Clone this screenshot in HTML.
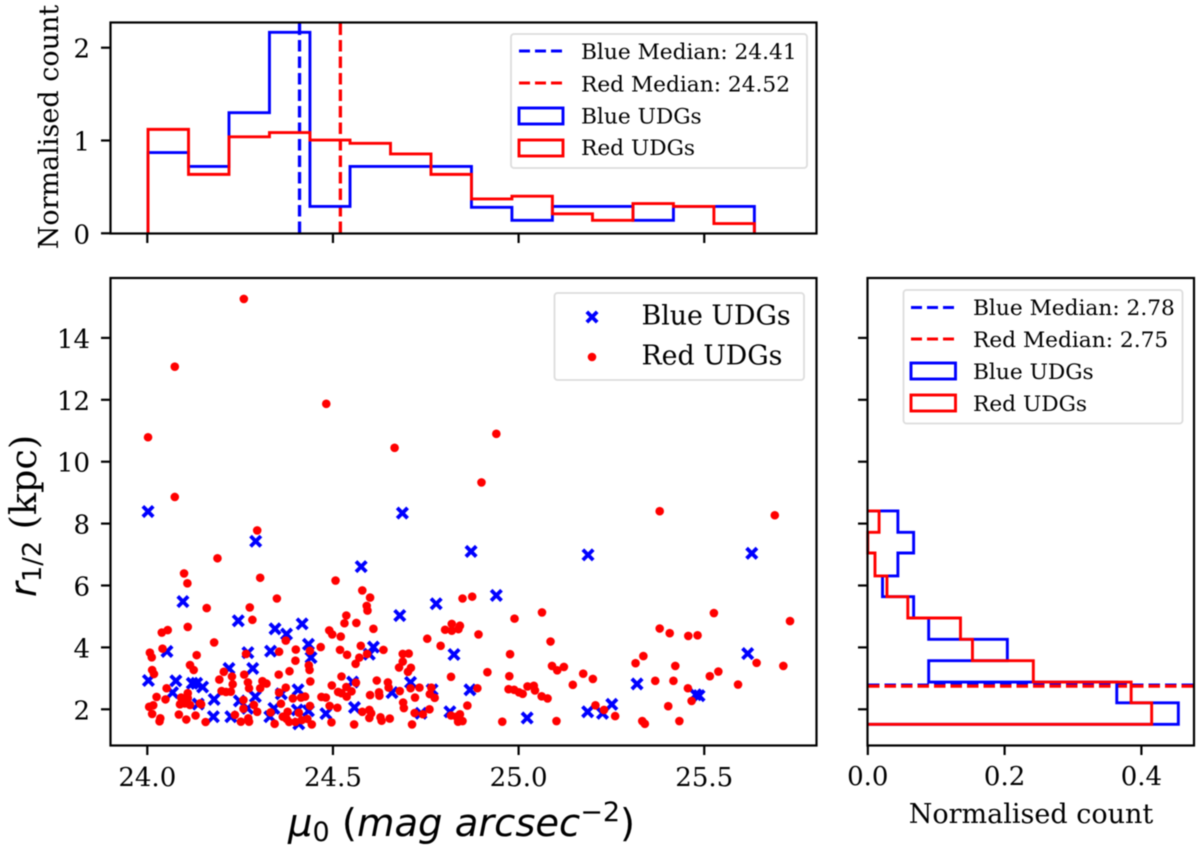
<!DOCTYPE html>
<html lang="en">
<head>
<meta charset="utf-8">
<title>UDG scatter with marginal histograms</title>
<style>
html,body{margin:0;padding:0;background:#fff;}
svg{display:block;filter:blur(0.45px);}
text{font-family:"DejaVu Serif","Liberation Serif",serif;fill:#000;}
.sans{font-family:"DejaVu Sans","Liberation Sans",sans-serif;}
</style>
</head>
<body>
<svg id="chart" xmlns="http://www.w3.org/2000/svg" width="1200" height="850" viewBox="0 0 1200 850">
  <rect x="0" y="0" width="1200" height="850" fill="#fff"/>
  <g id="top-marks"></g>
  <g id="main-marks"></g>
  <g id="right-marks"></g>
  <g id="ticks"></g>

  <rect x="110.5" y="22.5" width="706" height="211" fill="none" stroke="#000" stroke-width="2.2"/>
  <rect x="110.5" y="278" width="706" height="467.5" fill="none" stroke="#000" stroke-width="2.2"/>
  <rect x="867.5" y="278" width="326.5" height="467.5" fill="none" stroke="#000" stroke-width="2.2"/>

  <text font-size="27" text-anchor="middle" transform="translate(58 127) rotate(-90)">Normalised count</text>
  <text transform="translate(36 597) rotate(-90)" font-size="36.5"><tspan class="sans" font-style="italic">r</tspan><tspan class="sans" font-size="25.5" dy="5">1/2</tspan><tspan dy="-5" xml:space="preserve"> (kpc)</tspan></text>
  <text class="sans" x="288" y="836" font-size="38.5" xml:space="preserve"><tspan class="sans" font-style="italic">μ</tspan><tspan class="sans" font-size="27" dy="5">0</tspan><tspan class="sans" dy="-5"> (</tspan><tspan class="sans" font-style="italic">mag arcsec</tspan><tspan class="sans" font-size="27" dy="-15">−2</tspan><tspan class="sans" dy="15">)</tspan></text>
  <text font-size="27" text-anchor="middle" x="1031" y="823">Normalised count</text>

  <g>
    <rect x="511" y="34" width="296" height="134" rx="3" fill="#fff" fill-opacity="0.85" stroke="#ddd" stroke-width="1.8"/>
    <line x1="519" x2="563" y1="51" y2="51" stroke="#00f" stroke-width="3" stroke-dasharray="11 5"/>
    <text x="581" y="59" font-size="21.7">Blue Median: 24.41</text>
    <line x1="519" x2="563" y1="83" y2="83" stroke="#f00" stroke-width="3" stroke-dasharray="11 5"/>
    <text x="581" y="91.5" font-size="21.7">Red Median: 24.52</text>
    <rect x="519" y="108" width="44" height="16" fill="none" stroke="#00f" stroke-width="2.9"/>
    <text x="581" y="123.5" font-size="21.7">Blue UDGs</text>
    <rect x="519" y="140" width="44" height="16" fill="none" stroke="#f00" stroke-width="2.9"/>
    <text x="581" y="155" font-size="21.7">Red UDGs</text>
  </g>

  <g>
    <rect x="554.5" y="293" width="249.5" height="87" rx="3" fill="#fff" fill-opacity="0.85" stroke="#ddd" stroke-width="1.8"/>
    <path d="M586.8 311.8L597.2 322.2M597.2 311.8L586.8 322.2" stroke="#00f" stroke-width="3.8" fill="none"/>
    <text x="641.5" y="324.5" font-size="26.8">Blue UDGs</text>
    <circle cx="592" cy="357" r="4.3" fill="#f00"/>
    <text x="641.5" y="364.5" font-size="26.8">Red UDGs</text>
  </g>

  <g>
    <rect x="903.5" y="290" width="279" height="133.5" rx="3" fill="#fff" fill-opacity="0.85" stroke="#ddd" stroke-width="1.8"/>
    <line x1="911" x2="955.5" y1="307.5" y2="307.5" stroke="#00f" stroke-width="3" stroke-dasharray="11 5"/>
    <text x="973" y="315" font-size="21.7">Blue Median: 2.78</text>
    <line x1="911" x2="955.5" y1="339" y2="339" stroke="#f00" stroke-width="3" stroke-dasharray="11 5"/>
    <text x="973" y="347" font-size="21.7">Red Median: 2.75</text>
    <rect x="911" y="363" width="44.5" height="16" fill="none" stroke="#00f" stroke-width="2.9"/>
    <text x="973" y="379" font-size="21.7">Blue UDGs</text>
    <rect x="911" y="395" width="44.5" height="16" fill="none" stroke="#f00" stroke-width="2.9"/>
    <text x="973" y="411" font-size="21.7">Red UDGs</text>
  </g>
</svg>

<script>
// Tick values
const muTicks = [24.0, 24.5, 25.0, 25.5];
const muTickLabels = ["24.0", "24.5", "25.0", "25.5"];
const radiusTicks = [2, 4, 6, 8, 10, 12, 14];
const radiusTickLabels = ["2", "4", "6", "8", "10", "12", "14"];
const topCountTicks = [0, 1, 2];
const topCountTickLabels = ["0", "1", "2"];
const rightCountTicks = [0.0, 0.2, 0.4];
const rightCountTickLabels = ["0.0", "0.2", "0.4"];

// Medians
const blueMedianMu = 24.41;
const redMedianMu = 24.52;
const blueMedianRadius = 2.78;
const redMedianRadius = 2.75;

// Top histogram (surface brightness)
const muBinEdges = [24.002, 24.111, 24.220, 24.329, 24.438, 24.546, 24.655, 24.764, 24.873, 24.982, 25.091, 25.199, 25.308, 25.417, 25.526, 25.635];
const blueMuCounts = [0.87, 0.72, 1.30, 2.166, 0.29, 0.72, 0.72, 0.72, 0.28, 0.14, 0.29, 0.29, 0.14, 0.29, 0.29];
const redMuCounts = [1.12, 0.635, 1.04, 1.085, 1.005, 0.97, 0.855, 0.635, 0.37, 0.40, 0.21, 0.14, 0.32, 0.29, 0.105];

// Right histogram (radius)
const radiusBinEdges = [1.515, 2.21, 2.88, 3.57, 4.26, 4.95, 5.64, 6.31, 7.05, 7.72, 8.41];
const blueRadiusCounts = [0.454, 0.364, 0.089, 0.204, 0.089, 0.067, 0.0215, 0.044, 0.067, 0.044];
const redRadiusCounts = [0.415, 0.385, 0.242, 0.153, 0.1355, 0.0585, 0.028, 0.0105, 0, 0.0165];

// Scatter: blue UDGs
const blueMu = [24.002,24.687,24.292,24.096,24.576,24.245,24.680,24.778,24.344,24.375,24.417,24.434,24.609,24.598,24.053,24.271,24.332,24.441,24.826,24.220,24.284,24.003,24.077,24.068,24.121,24.133,24.149,24.180,24.291,24.361,24.406,24.553,24.709,24.659,24.767,24.137,24.248,24.270,24.178,24.225,24.330,24.341,24.408,24.404,24.434,24.481,24.558,24.737,24.815,24.872,25.187,25.628,24.940,25.617,25.319,24.869,25.023,25.186,25.226,25.251,25.477,25.486];
const blueRadius = [8.39,8.34,7.43,5.48,6.61,4.86,5.03,5.41,4.60,4.43,4.76,4.10,4.01,3.78,3.87,3.83,3.88,3.67,3.77,3.32,3.32,2.93,2.92,2.54,2.84,2.84,2.72,2.32,2.41,2.50,2.63,2.88,2.87,2.54,2.63,2.17,2.27,2.03,1.76,1.76,1.76,2.03,1.53,1.98,1.95,1.86,2.06,1.87,1.92,7.10,6.99,7.04,5.68,3.80,2.82,2.63,1.72,1.92,1.87,2.16,2.47,2.44];

// Scatter: red UDGs
const redMu = [24.296,24.189,24.099,24.108,24.304,24.349,24.160,24.276,24.283,24.109,24.039,24.055,24.180,24.041,24.007,24.012,24.133,24.115,24.125,24.013,24.018,24.355,24.266,24.400,24.399,24.438,24.435,24.437,24.467,24.373,24.507,24.579,24.600,24.591,24.593,24.536,24.531,24.563,24.609,24.490,24.498,24.521,24.519,24.538,24.575,24.571,24.561,24.592,24.636,24.754,24.790,24.802,24.820,24.820,24.838,24.842,24.688,24.704,24.688,24.678,24.710,24.702,24.818,24.354,24.383,24.206,24.228,24.194,24.261,24.523,24.562,24.618,24.648,24.439,24.497,24.373,24.321,24.310,24.304,24.230,24.271,24.274,24.052,24.025,24.049,24.109,24.091,24.109,24.097,24.088,24.101,24.115,24.142,24.145,24.200,24.212,24.225,24.355,24.469,24.481,24.514,24.523,24.537,24.536,24.550,24.600,24.624,24.625,24.650,24.680,24.709,24.733,24.721,24.765,24.761,24.774,24.689,24.691,24.760,24.720,24.742,24.005,24.016,24.013,24.035,24.033,24.085,24.105,24.130,24.157,24.236,24.252,24.259,24.259,24.274,24.287,24.296,24.272,24.332,24.343,24.360,24.392,24.414,24.425,24.438,24.378,24.365,24.375,24.382,24.399,24.408,24.416,24.431,24.443,24.491,24.512,24.496,24.557,24.579,24.598,24.603,24.598,24.628,24.631,24.653,24.713,24.818,24.849,24.875,24.892,24.989,25.063,25.086,24.977,25.090,25.104,25.122,24.916,24.975,25.174,25.200,25.146,24.889,24.973,24.988,25.001,25.011,25.024,25.041,25.044,25.062,25.078,24.862,24.833,24.842,24.837,24.849,24.956,25.102,25.207,25.230,25.260,25.333,25.340,25.403,25.433,25.466,25.456,25.368,25.417,25.422,25.315,25.336,25.380,25.407,25.457,25.482,25.526,25.515,25.538,25.591,25.641,25.713,25.731,24.94,24.90,25.38,25.69,24.26,24.074,24.482,24.002,24.666,24.074];
const redRadius = [7.78,6.88,6.39,6.07,6.25,5.58,5.27,5.29,4.89,4.66,4.48,4.56,4.16,3.96,3.83,3.68,3.75,3.43,3.27,3.27,3.14,3.86,3.79,3.93,3.57,3.89,3.42,3.27,4.01,4.22,6.16,5.84,5.61,5.34,5.19,5.03,4.78,4.79,4.60,4.55,4.42,4.35,3.92,3.76,4.05,3.67,3.47,3.79,3.92,4.28,4.05,4.57,4.76,4.54,4.59,4.70,3.79,3.80,3.54,3.35,3.34,3.21,3.05,3.12,3.23,3.21,3.06,2.96,3.12,3.06,2.86,2.93,2.87,2.90,2.77,2.70,2.83,2.91,2.68,2.81,2.87,2.68,2.68,2.40,2.32,2.52,2.38,2.36,2.30,2.16,2.19,2.14,2.19,2.16,2.59,2.56,2.57,2.54,2.40,2.38,2.56,2.52,2.41,2.72,2.58,2.46,2.55,2.44,2.70,2.59,2.68,2.70,2.38,2.70,2.49,2.37,2.22,2.04,2.00,1.88,1.84,2.08,2.13,1.85,1.71,1.61,1.83,1.67,1.80,1.59,1.82,1.60,2.30,2.02,1.60,2.14,1.92,1.71,1.90,1.53,2.18,2.35,2.38,2.41,2.11,1.92,1.76,1.69,1.59,1.59,1.89,1.65,1.69,1.51,2.11,2.05,1.58,1.51,1.92,1.98,1.87,1.72,1.74,1.63,1.70,1.51,1.80,5.58,5.64,4.42,4.93,5.13,4.19,3.78,3.40,3.26,3.37,3.20,3.07,3.15,2.98,2.79,2.68,2.65,2.63,2.55,2.50,2.74,2.76,2.61,2.42,2.35,2.12,1.76,1.84,1.60,1.62,1.60,1.62,2.13,1.98,1.78,1.62,1.53,2.10,1.62,2.27,2.68,2.92,2.92,3.40,3.49,3.72,4.61,4.46,4.37,4.39,5.11,3.07,3.22,2.80,3.50,3.40,4.85,10.9,9.33,8.4,8.27,15.26,13.07,11.87,10.79,10.45,8.86];

const SVG_NS = "http://www.w3.org/2000/svg";
const BLUE = "#0000ff";
const RED = "#ff0000";

// Axis functions
function xMu(v) { return 147.3 + (v - 24) * 371.3; }
function yRadius(v) { return 709.3 - (v - 2) * 30.95; }
function yTopCount(v) { return 233.3 - v * 92.8; }
function xRightCount(v) { return 867.8 + v * 684; }

function make(tag, attrs, parent) {
  const el = document.createElementNS(SVG_NS, tag);
  for (const k in attrs) el.setAttribute(k, attrs[k]);
  parent.appendChild(el);
  return el;
}

const topMarks = document.getElementById("top-marks");
const mainMarks = document.getElementById("main-marks");
const rightMarks = document.getElementById("right-marks");
const tickGroup = document.getElementById("ticks");

// Top histogram medians
[[blueMedianMu, BLUE, "top-blue-median-line"], [redMedianMu, RED, "top-red-median-line"]].forEach(function (m) {
  const el = make("line", { x1: xMu(m[0]), x2: xMu(m[0]), y1: 233, y2: 23, stroke: m[1], "stroke-width": 3.3, "stroke-dasharray": "11.5 5" }, topMarks);
  
  
});

function stepTop(counts) {
  let d = "M" + xMu(muBinEdges[0]) + " " + yTopCount(0);
  counts.forEach(function (c, i) {
    d += "L" + xMu(muBinEdges[i]) + " " + yTopCount(c);
    d += "L" + xMu(muBinEdges[i + 1]) + " " + yTopCount(c);
  });
  d += "L" + xMu(muBinEdges[counts.length]) + " " + yTopCount(0);
  return d;
}
const topBlueHist = make("path", { d: stepTop(blueMuCounts), fill: "none", stroke: BLUE, "stroke-width": 2.9, "stroke-linejoin": "miter" }, topMarks);


const topRedHist = make("path", { d: stepTop(redMuCounts), fill: "none", stroke: RED, "stroke-width": 2.9, "stroke-linejoin": "miter" }, topMarks);



// Scatter
blueMu.forEach(function (m, i) {
  const cx = xMu(m), cy = yRadius(blueRadius[i]), h = 5.2;
  const el = make("path", { d: "M" + (cx - h) + " " + (cy - h) + "L" + (cx + h) + " " + (cy + h) + "M" + (cx + h) + " " + (cy - h) + "L" + (cx - h) + " " + (cy + h), stroke: BLUE, "stroke-width": 3.8, fill: "none" }, mainMarks);
  
  
});
redMu.forEach(function (m, i) {
  const el = make("circle", { cx: xMu(m), cy: yRadius(redRadius[i]), r: 4.3, fill: RED }, mainMarks);
  
  
});

// Right histogram medians
[[blueMedianRadius, BLUE, "right-blue-median-line"], [redMedianRadius, RED, "right-red-median-line"]].forEach(function (m) {
  const el = make("line", { x1: 868, x2: 1193, y1: yRadius(m[0]), y2: yRadius(m[0]), stroke: m[1], "stroke-width": 3.3, "stroke-dasharray": "11.5 5" }, rightMarks);
  
  
});

function stepRight(counts) {
  let d = "M" + xRightCount(0) + " " + yRadius(radiusBinEdges[0]);
  counts.forEach(function (c, i) {
    d += "L" + xRightCount(c) + " " + yRadius(radiusBinEdges[i]);
    d += "L" + xRightCount(c) + " " + yRadius(radiusBinEdges[i + 1]);
  });
  d += "L" + xRightCount(0) + " " + yRadius(radiusBinEdges[counts.length]);
  return d;
}
const rightBlueHist = make("path", { d: stepRight(blueRadiusCounts), fill: "none", stroke: BLUE, "stroke-width": 2.9 }, rightMarks);


const rightRedHist = make("path", { d: stepRight(redRadiusCounts), fill: "none", stroke: RED, "stroke-width": 2.9 }, rightMarks);



// Ticks
function tickLine(x1, y1, x2, y2, name) {
  const el = make("line", { x1: x1, y1: y1, x2: x2, y2: y2, stroke: "#000", "stroke-width": 2.2 }, tickGroup);
  
  
}
function tickText(x, y, anchor, str, name) {
  const el = make("text", { x: x, y: y, "text-anchor": anchor, "font-size": 26 }, tickGroup);
  el.textContent = str;
  
  
}
muTicks.forEach(function (v, i) {
  const x = xMu(v);
  tickLine(x, 233.5, x, 243, "top-x-tick");
  tickLine(x, 745.5, x, 755, "main-x-tick");
  tickText(x, 786, "middle", muTickLabels[i], "main-x-tick-label");
});
radiusTicks.forEach(function (v, i) {
  const y = yRadius(v);
  tickLine(110.5, y, 101, y, "main-y-tick");
  tickLine(867.5, y, 858, y, "right-y-tick");
  tickText(90, y + 10, "end", radiusTickLabels[i], "main-y-tick-label");
});
topCountTicks.forEach(function (v, i) {
  const y = yTopCount(v);
  tickLine(110.5, y, 101, y, "top-y-tick");
  tickText(90, y + 10, "end", topCountTickLabels[i], "top-y-tick-label");
});
rightCountTicks.forEach(function (v, i) {
  const x = xRightCount(v);
  tickLine(x, 745.5, x, 755, "right-x-tick");
  tickText(x, 785, "middle", rightCountTickLabels[i], "right-x-tick-label");
});
</script>
</body>
</html>
